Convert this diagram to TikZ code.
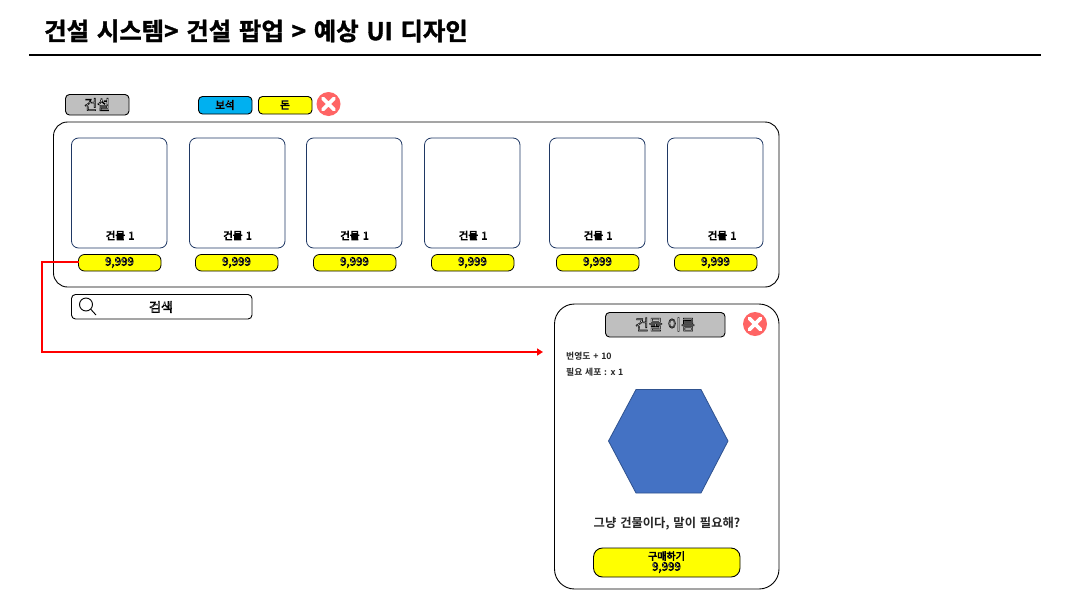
\documentclass[tikz,border=0pt]{standalone}
\usepackage{fontspec}
\setmainfont{Noto Sans CJK KR}[BoldFont={Noto Sans CJK KR Bold},WordSpace=1.4]
\usetikzlibrary{arrows.meta,calc}
\definecolor{cardline}{HTML}{1F3864}
\definecolor{hexfill}{HTML}{4472C4}
\definecolor{hexline}{HTML}{2F528F}
\definecolor{btngray}{HTML}{BFBFBF}
\definecolor{gemblue}{HTML}{00B0F0}
\definecolor{closered}{HTML}{FF6464}
\definecolor{pureyellow}{HTML}{FFFF00}
\definecolor{linered}{HTML}{FF0000}
\newcommand{\outl}[1]{\special{pdf:code q 2 Tr 0.55 w 1 1 1 rg 0 0 0 RG}#1\special{pdf:code Q}}
\newcommand{\heavy}[1]{\special{pdf:code q 2 Tr 0.35 w 0 0 0 rg 0 0 0 RG}#1\special{pdf:code Q}}
\tikzset{x=1pt,y=-1pt,
  box/.style={draw=black,rounded corners=#1,line width=0.9pt,minimum height=0pt,inner sep=0pt},
  box/.default=4pt,
  ol/.style={font=\fontsize{10.5}{13}\selectfont,inner sep=0pt,text=black},
  plain/.style={font=\bfseries\fontsize{8.8}{11}\selectfont,inner sep=0pt,text=black!85},
  card/.style={draw=cardline,rounded corners=7pt,line width=0.8pt},
  price/.style={draw=black,fill=pureyellow,rounded corners=6pt,line width=0.8pt},
  closebtn/.style={circle,fill=closered,minimum size=24pt,inner sep=0pt},
}
\newcommand{\xmark}[1]{\draw[white,line width=3.6pt,line cap=round] ($(#1)+(-5.5,-5.5)$) -- ($(#1)+(5.5,5.5)$) ($(#1)+(-5.5,5.5)$) -- ($(#1)+(5.5,-5.5)$);}
\begin{document}
\begin{tikzpicture}
\useasboundingbox (0,0) rectangle (1075,605);
\fill[white] (0,0) rectangle (1075,605);
\node[anchor=west,inner sep=0pt,font=\bfseries\fontsize{24.4}{29}\selectfont] (title) at (44,31) {\heavy{건설 시스템> 건설 팝업 > 예상 UI 디자인}};
\coordinate (ruleL) at (29,55); \coordinate (ruleR) at (1041,55);
\draw[line width=1.8pt] (ruleL) -- (ruleR);
% top row
\draw[box,fill=btngray] (65.5,94.5) rectangle (129,115);
\node[ol,font=\fontsize{14}{16}\selectfont] (build) at (97,104.5) {\outl{건설}};
\draw[box,fill=gemblue] (198.5,96.5) rectangle (252,114);
\node[ol] (gem) at (225,105) {\outl{보석}};
\draw[box,fill=pureyellow] (258.5,96.5) rectangle (312,114);
\node[ol] (money) at (285,105) {\outl{돈}};
\node[closebtn] (close1) at (328.5,104) {};
\xmark{close1}
% main panel
\draw[box=14pt] (53.5,122) rectangle (779,287);
\foreach \l/\n in {71.5/1,189.5/2,306.5/3,424.5/4,549.5/5,667.5/6}{
  \draw[card] (\l,138) rectangle (\l+95.5,248);
}
\foreach \c/\n in {120/1,237.5/2,354.5/3,473/4,598/5,722/6}{
  \node[ol] (lab\n) at (\c,235.5) {\outl{건물 1}};
}
\foreach \l/\n in {78.5/1,195.5/2,313.5/3,431.5/4,556.5/5,674.5/6}{
  \draw[price] (\l,254.5) rectangle (\l+82.5,271);
  \node[ol,font=\fontsize{11.5}{13}\selectfont] (price\n) at (\l+41,262.5) {\outl{9,999}};
  \coordinate (pl\n) at (\l,262);
}
% search
\draw[box] (71.5,294.5) rectangle (252,319);
\node[ol,font=\fontsize{13}{15}\selectfont] (search) at (161,307) {\outl{검색}};
\draw[line width=0.9pt] (86,304.5) circle (6.5pt);
\draw[line width=0.9pt] (90.8,309.3) -- (96,315);
% popup
\draw[box=20pt] (554.5,304) rectangle (779,589);
\draw[box,fill=btngray] (605.5,312.5) rectangle (725,337);
\node[ol,font=\fontsize{15}{17}\selectfont] (pname) at (665,324.5) {\outl{건물 이름}};
\node[closebtn] (close2) at (755,324) {};
\xmark{close2}
\node[plain,anchor=west] (t1) at (566,356.5) {번영도 + 10};
\node[plain,anchor=west] (t2) at (566,372.5) {필요 세포 : x 1};
\draw[draw=hexline,fill=hexfill,line width=0.8pt] (608.5,441) -- (636,389.5) -- (701,389.5) -- (728,441) -- (701,493) -- (636,493) -- cycle;
\node[plain,font=\bfseries\fontsize{12.3}{14}\selectfont] (desc) at (667,523.5) {그냥 건물이다, 말이 필요해?};
\draw[box=9pt,fill=pureyellow] (593.5,548) rectangle (740,577);
\node[ol,font=\fontsize{10}{12}\selectfont] (buy) at (666.5,556) {\outl{구매하기}};
\node[ol,font=\fontsize{11.5}{13}\selectfont] (buyprice) at (666.5,567.5) {\outl{9,999}};
% connector
\coordinate (arrowend) at (543,352);
\draw[linered,line width=2pt,-{Triangle[length=6pt,width=7pt]}] (pl1) -- (42,262) -- (42,352) -- (arrowend);
\end{tikzpicture}
\end{document}
